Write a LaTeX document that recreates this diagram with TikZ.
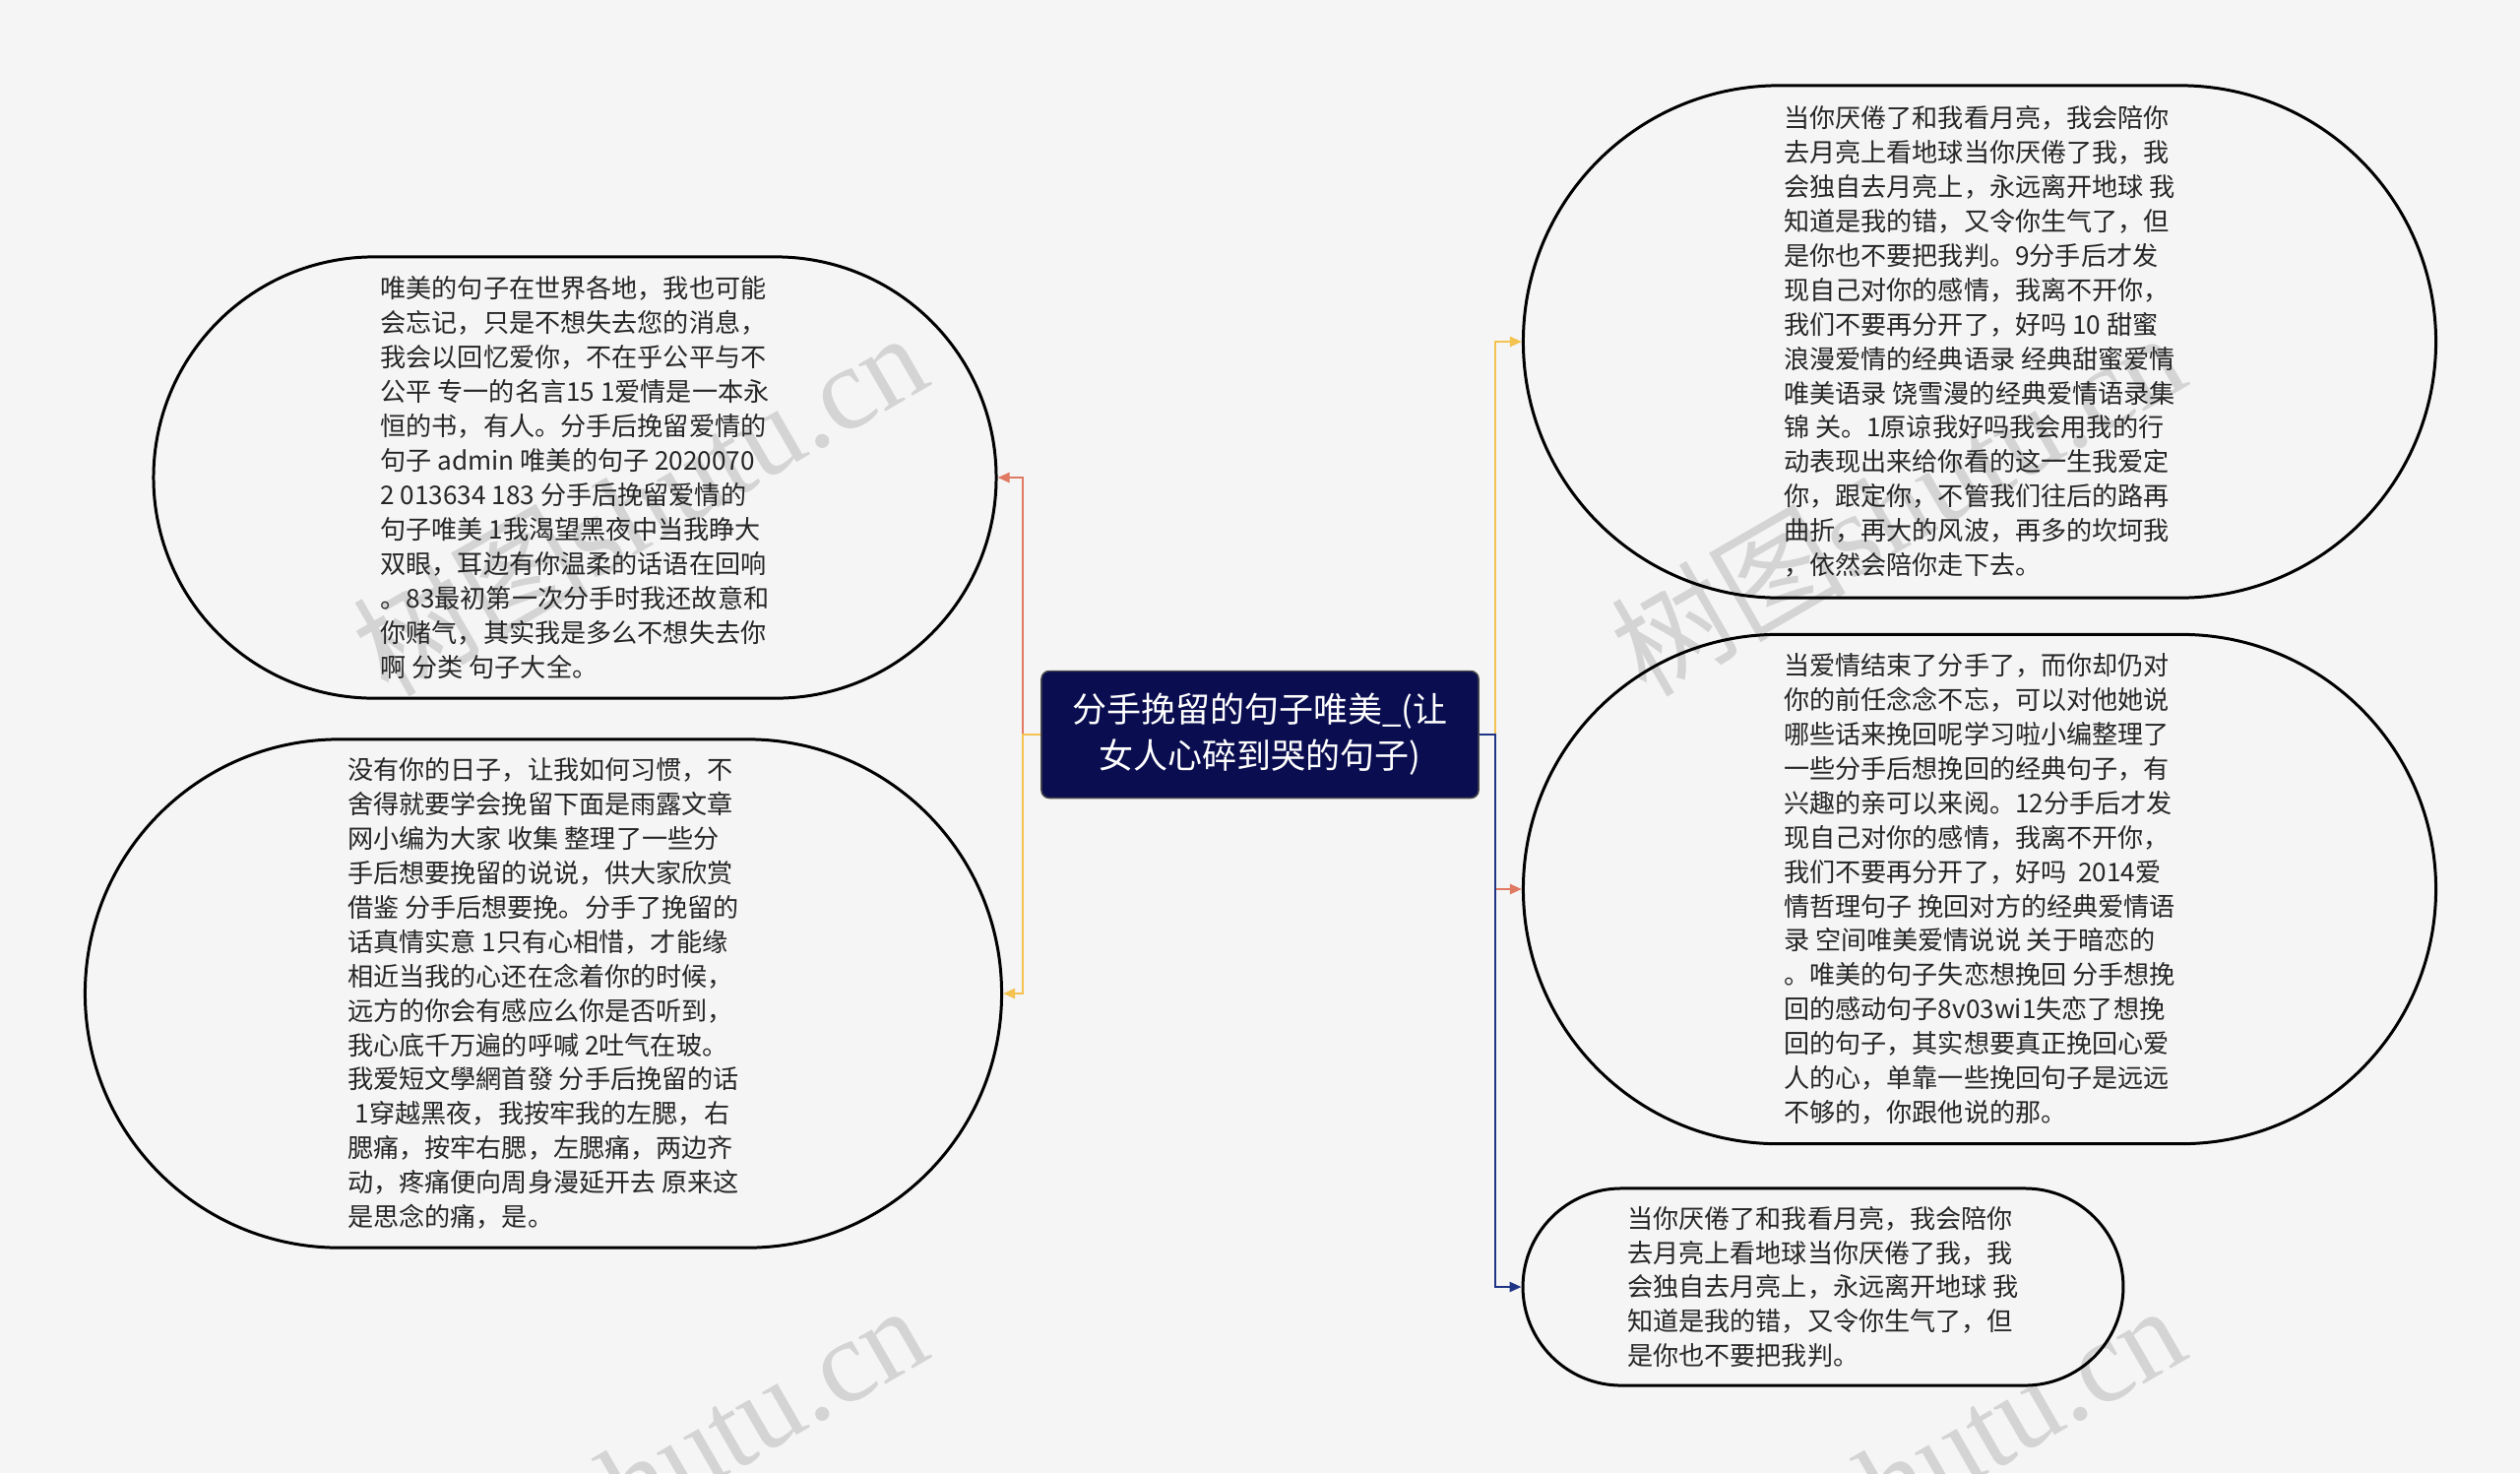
\documentclass[tikz,border=0pt]{standalone}
\usepackage{fontspec}
\setmainfont{Noto Sans CJK SC}
\newfontfamily\wmlatin{Liberation Serif}
\usetikzlibrary{arrows.meta,shapes.misc}

\definecolor{bggray}{HTML}{F5F5F5}
\definecolor{rootblue}{RGB}{10,14,80}
\definecolor{linered}{HTML}{E07A63}
\definecolor{lineyellow}{HTML}{F4C24E}
\definecolor{linenavy}{HTML}{1F3486}

\tikzset{
  bubble/.style={rounded rectangle, draw=black, line width=0.85pt, align=left,
    text=black!85, font=\fontsize{7.43}{9.93}\selectfont},
  rootbox/.style={rectangle, rounded corners=0.08cm, draw=black!70, fill=rootblue,
    text=white, align=center, minimum width=4.44cm, minimum height=1.29cm,
    font=\fontsize{9.96}{13.4}\selectfont},
  branch/.style={line width=0.7pt, -{Triangle[length=1.2mm,width=1mm]}},
  wmark/.style={text=black!17, rotate=30, font=\fontsize{34}{34}\selectfont}
}

\begin{document}
\begin{tikzpicture}[x=0.01cm, y=-0.01cm]
    \useasboundingbox (0,0) rectangle (2560,1496);
    \fill[bggray] (0,0) rectangle (2560,1496);

    %Draw the watermark
    \begin{scope}
        \clip (0,0) rectangle (2560,1496);
        \foreach \wx/\wy in {649/510, 1927/510, 649/1498, 1927/1498}
            \node[wmark] at (\wx,\wy) {树图{\wmlatin shutu.cn}};
    \end{scope}

    %Draw the root
    \node[rootbox] (root) at (1280,746) {分手挽留的句子唯美\_(让\\女人心碎到哭的句子)};

    %Draw the left bubbles
    \node[bubble, minimum width=8.79cm, minimum height=4.48cm] (lt) at (584,485) {%
        唯美的句子在世界各地，我也可能\\
        会忘记，只是不想失去您的消息，\\
        我会以回忆爱你，不在乎公平与不\\
        公平 专一的名言15 1爱情是一本永\\
        恒的书，有人。分手后挽留爱情的\\
        句子 admin 唯美的句子 2020070\\
        2 013634 183 分手后挽留爱情的\\
        句子唯美 1我渴望黑夜中当我睁大\\
        双眼，耳边有你温柔的话语在回响\\
        。83最初第一次分手时我还故意和\\
        你赌气，其实我是多么不想失去你\\
        啊 分类 句子大全。};
    \node[bubble, minimum width=9.54cm, minimum height=5.16cm] (lb) at (552,1009) {%
        没有你的日子，让我如何习惯，不\\
        舍得就要学会挽留下面是雨露文章\\
        网小编为大家 收集 整理了一些分\\
        手后想要挽留的说说，供大家欣赏\\
        借鉴 分手后想要挽。分手了挽留的\\
        话真情实意 1只有心相惜，才能缘\\
        相近当我的心还在念着你的时候，\\
        远方的你会有感应么你是否听到，\\
        我心底千万遍的呼喊 2吐气在玻。\\
        我爱短文學網首發 分手后挽留的话\\
        \hspace*{.3em}1穿越黑夜，我按牢我的左腮，右\\
        腮痛，按牢右腮，左腮痛，两边齐\\
        动，疼痛便向周身漫延开去 原来这\\
        是思念的痛，是。};

    %Draw the right bubbles
    \node[bubble, minimum width=9.50cm, minimum height=5.20cm] (rt) at (2011,347) {%
        当你厌倦了和我看月亮，我会陪你\\
        去月亮上看地球当你厌倦了我，我\\
        会独自去月亮上，永远离开地球 我\\
        知道是我的错，又令你生气了，但\\
        是你也不要把我判。9分手后才发\\
        现自己对你的感情，我离不开你，\\
        我们不要再分开了，好吗 10 甜蜜\\
        浪漫爱情的经典语录 经典甜蜜爱情\\
        唯美语录 饶雪漫的经典爱情语录集\\
        锦 关。1原谅我好吗我会用我的行\\
        动表现出来给你看的这一生我爱定\\
        你，跟定你，不管我们往后的路再\\
        曲折，再大的风波，再多的坎坷我\\
        ，依然会陪你走下去。};
    \node[bubble, minimum width=9.50cm, minimum height=5.17cm] (rm) at (2011,903) {%
        当爱情结束了分手了，而你却仍对\\
        你的前任念念不忘，可以对他她说\\
        哪些话来挽回呢学习啦小编整理了\\
        一些分手后想挽回的经典句子，有\\
        兴趣的亲可以来阅。12分手后才发\\
        现自己对你的感情，我离不开你，\\
        我们不要再分开了，好吗\ \ 2014爱\\
        情哲理句子 挽回对方的经典爱情语\\
        录 空间唯美爱情说说 关于暗恋的\\
        。唯美的句子失恋想挽回 分手想挽\\
        回的感动句子8v03wi1失恋了想挽\\
        回的句子，其实想要真正挽回心爱\\
        人的心，单靠一些挽回句子是远远\\
        不够的，你跟他说的那。};
    \node[bubble, minimum width=6.33cm, minimum height=2.00cm] (rb) at (1852,1307) {%
        当你厌倦了和我看月亮，我会陪你\\
        去月亮上看地球当你厌倦了我，我\\
        会独自去月亮上，永远离开地球 我\\
        知道是我的错，又令你生气了，但\\
        是你也不要把我判。};

    %Draw the branches
    \draw[branch, linered] (root.west) -- ++(-18,0) |- (lt.east);
    \draw[branch, lineyellow] (root.west) -- ++(-18,0) |- (lb.east);
    \draw[branch, lineyellow] (root.east) -- ++(16,0) |- (rt.west);
    \draw[branch, linered] (root.east) -- ++(16,0) |- (rm.west);
    \draw[branch, linenavy] (root.east) -- ++(16,0) |- (rb.west);

\end{tikzpicture}
\end{document}
